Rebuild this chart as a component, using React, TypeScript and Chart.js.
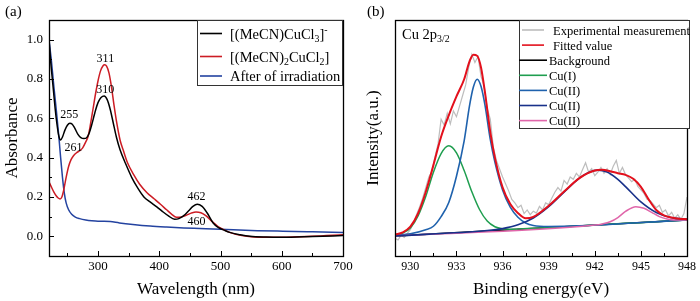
import React, { useEffect, useRef } from "react";
import { Chart, registerables } from "chart.js";

Chart.register(...registerables);

const SERIF = "'Liberation Serif', 'Times New Roman', serif";

// ---------------- Panel (a): UV-vis absorbance ----------------
const wlBlack = [220, 223, 227, 230, 233, 236, 239, 242, 246, 250, 254, 258, 262, 267, 272, 277, 281, 285, 290, 295, 300, 305, 310, 315, 320, 325, 330, 336, 345, 355, 365, 375, 385, 396, 405, 415, 425, 432, 440, 448, 455, 462, 470, 478, 488, 496, 505, 515, 532, 548, 575, 600, 650, 700];
const absBlack = [1.0, 0.88, 0.75, 0.65, 0.57, 0.51, 0.49, 0.505, 0.54, 0.565, 0.575, 0.57, 0.55, 0.52, 0.502, 0.497, 0.5, 0.52, 0.57, 0.63, 0.68, 0.706, 0.714, 0.695, 0.645, 0.575, 0.505, 0.44, 0.37, 0.3, 0.245, 0.2, 0.175, 0.15, 0.127, 0.104, 0.087, 0.09, 0.105, 0.13, 0.152, 0.163, 0.152, 0.12, 0.068, 0.046, 0.033, 0.02, 0.008, 0.0, -0.004, -0.005, -0.001, 0.004];

const wlRed = [220, 224, 228, 232, 235, 238, 241, 244, 248, 252, 256, 260, 265, 270, 275, 280, 284, 288, 292, 296, 300, 304, 308, 311, 314, 318, 322, 326, 331, 336, 341, 348, 358, 368, 380, 392, 402, 412, 420, 428, 436, 444, 452, 460, 468, 476, 486, 496, 505, 515, 525, 535, 550, 575, 600, 650, 700];
const absRed = [0.277, 0.25, 0.225, 0.205, 0.195, 0.19, 0.2, 0.235, 0.3, 0.355, 0.39, 0.41, 0.425, 0.435, 0.45, 0.48, 0.51, 0.575, 0.65, 0.725, 0.79, 0.84, 0.866, 0.872, 0.865, 0.83, 0.76, 0.67, 0.57, 0.49, 0.44, 0.375, 0.315, 0.265, 0.222, 0.19, 0.163, 0.135, 0.113, 0.097, 0.098, 0.107, 0.118, 0.124, 0.12, 0.105, 0.076, 0.05, 0.034, 0.02, 0.01, 0.004, -0.002, -0.005, -0.005, 0.0, 0.008];

const wlBlue = [220, 224, 228, 232, 236, 239, 242, 245, 248, 252, 257, 263, 270, 280, 290, 300, 310, 320, 335, 357, 385, 412, 440, 466, 500, 521, 560, 602, 650, 700];
const absBlue = [1.0, 0.89, 0.76, 0.64, 0.51, 0.4, 0.3, 0.22, 0.17, 0.135, 0.112, 0.098, 0.09, 0.083, 0.079, 0.077, 0.077, 0.075, 0.068, 0.06, 0.052, 0.047, 0.043, 0.04, 0.036, 0.033, 0.029, 0.026, 0.023, 0.02];

const uvLabels = ["[(MeCN)CuCl_{3}]^{-}", "[(MeCN)_{2}CuCl_{2}]", "After of irradiation"];
const uvXTicks = [300, 400, 500, 600, 700];
const uvXMinor = [250, 350, 450, 550, 650];
const uvYTicks = [0, 0.2, 0.4, 0.6, 0.8, 1.0];
const uvYMinor = [0.1, 0.3, 0.5, 0.7, 0.9];
const uvPeakText = ["311", "310", "255", "261", "462", "460"];
const uvPeakWl = [312, 312, 253, 260, 461, 461];
const uvPeakAbs = [0.9, 0.745, 0.617, 0.452, 0.2, 0.073];

// ---------------- Panel (b): XPS Cu 2p3/2 ----------------
const expE = [929.0, 929.2, 929.4, 929.6, 929.8, 930.0, 930.2, 930.4, 930.6, 930.8,
  931.0, 931.2, 931.4, 931.6, 931.8, 932.0, 932.2, 932.4, 932.6, 932.8,
  933.0, 933.2, 933.4, 933.6, 933.8, 934.0, 934.2, 934.4, 934.6, 934.8,
  935.0, 935.2, 935.4, 935.6, 935.8, 936.0, 936.2, 936.4, 936.6, 936.8,
  937.0, 937.2, 937.4, 937.6, 937.8, 938.0, 938.2, 938.4, 938.6, 938.8,
  939.0, 939.2, 939.4, 939.6, 939.8, 940.0, 940.2, 940.4, 940.6, 940.8,
  941.0, 941.2, 941.4, 941.6, 941.8, 942.0, 942.2, 942.4, 942.6, 942.8,
  943.0, 943.2, 943.4, 943.6, 943.8, 944.0, 944.2, 944.4, 944.6, 944.8,
  945.0, 945.2, 945.4, 945.6, 945.8, 946.0, 946.2, 946.4, 946.6, 946.8,
  947.0, 947.2, 947.4, 947.6, 947.8, 948.0];
const expI = [7.5, 6.8, 8.9, 7.9, 9.6, 11.2, 14.0, 17.5, 20.8, 24.5,
  29.0, 33.5, 35.8, 42.0, 47.5, 58.0, 55.5, 60.5, 56.0, 61.5,
  59.0, 63.5, 68.0, 72.5, 80.0, 85.5, 82.0, 84.5, 76.0, 72.0,
  62.5, 58.0, 46.0, 40.5, 37.0, 33.5, 30.5, 27.5, 24.0, 22.5,
  20.5, 21.5, 18.0, 19.5, 17.5, 19.0, 18.2, 21.0, 19.5, 22.5,
  21.8, 24.5, 27.0, 29.0, 27.5, 32.0, 30.5, 33.5, 32.5, 35.0,
  33.5, 36.5, 39.5, 35.5, 37.0, 34.0, 35.5, 37.5, 35.0, 37.0,
  34.5, 38.0, 40.5, 35.0, 37.5, 34.5, 33.0, 31.5, 32.5, 29.5,
  28.0, 26.5, 24.0, 23.5, 22.0, 20.5, 21.5, 18.5, 19.5, 17.0,
  18.5, 16.0, 17.5, 15.5, 18.0, 25.0];

const fitE = [929, 929.5, 930, 930.5, 931, 931.5, 932, 932.5, 933, 933.5, 933.85, 934.1, 934.35, 934.6, 934.85, 935.2, 935.5, 936, 936.5, 937, 937.5, 938, 939, 940, 941, 942, 942.5, 943, 943.5, 944, 944.5, 945, 945.5, 946, 946.5, 947, 947.5, 948];
const fitI = [9.0, 10.0, 12.4, 18.0, 27.1, 38.5, 50.5, 59.6, 67.6, 74.9, 82.5, 85.3, 84.8, 79.8, 69.5, 52.5, 41.7, 29.1, 22.0, 18.2, 16.0, 16.6, 21.3, 27.3, 33.0, 36.2, 36.5, 35.9, 35.1, 34.4, 32.7, 29.3, 24.0, 19.5, 17.2, 16.3, 15.8, 15.6];

const bgE = [929, 948];
const bgI = [8.5, 15.3];

const cu1E = [929, 929.5, 930, 930.5, 931, 931.5, 932, 932.5, 933, 933.5, 934, 934.5, 935, 935.5, 936, 936.5, 937, 948];
const cu1I = [8.8, 9.7, 11.9, 17.0, 25.2, 35.5, 43.4, 46.7, 43.7, 36.2, 27.2, 19.7, 14.8, 12.4, 11.5, 11.3, 11.4, 15.3];

const cu2aE = [929, 930, 931, 931.5, 932, 932.5, 933, 933.5, 933.85, 934.1, 934.35, 934.6, 934.85, 935.2, 935.5, 936, 936.5, 937, 937.5, 938, 939, 940, 948];
const cu2aI = [8.7, 9.4, 11.1, 12.6, 16.7, 22.7, 33.8, 48.8, 63.7, 71.6, 74.9, 71.8, 64.1, 49.4, 39.8, 28.0, 20.7, 16.4, 14.0, 12.9, 12.5, 12.55, 15.3];

const cu2bE = [929, 935, 936, 937, 938, 939, 940, 941, 941.6, 942.2, 942.8, 943.5, 944, 945, 946, 947, 948];
const cu2bI = [8.5, 10.8, 11.6, 13.2, 16.1, 20.9, 27.1, 33.0, 35.4, 36.4, 35.6, 32.5, 29.4, 22.9, 18.4, 16.2, 15.65];

const cu2cE = [929, 942, 942.5, 943, 943.5, 944, 944.67, 945.2, 945.7, 946.2, 946.7, 947.2, 948];
const cu2cI = [8.5, 13.1, 13.6, 14.5, 16.3, 18.9, 20.9, 20.2, 18.5, 16.7, 15.7, 15.3, 15.3];

const xpsLabels = ["Experimental measurement", "Fitted value", "Background", "Cu(I)", "Cu(II)", "Cu(II)", "Cu(II)"];
const xpsXTicks = [930, 933, 936, 939, 942, 945, 948];
const xpsXMinor = [931.5, 934.5, 937.5, 940.5, 943.5, 946.5];

// ---------------- helpers ----------------
const pts = (xs: number[], ys: number[]) => xs.map((x, i) => ({ x, y: ys[i] }));

type Seg = { t: string; m: "n" | "sub" | "sup" };
function parseRich(s: string): Seg[] {
  const out: Seg[] = [];
  let i = 0;
  while (i < s.length) {
    if ((s[i] === "_" || s[i] === "^") && s[i + 1] === "{") {
      const end = s.indexOf("}", i);
      out.push({ t: s.slice(i + 2, end), m: s[i] === "_" ? "sub" : "sup" });
      i = end + 1;
    } else {
      let j = i;
      while (j < s.length && !((s[j] === "_" || s[j] === "^") && s[j + 1] === "{")) j++;
      out.push({ t: s.slice(i, j), m: "n" });
      i = j;
    }
  }
  return out;
}
function drawRich(ctx: CanvasRenderingContext2D, s: string, x: number, yBase: number, size: number) {
  ctx.textAlign = "left";
  ctx.textBaseline = "alphabetic";
  for (const seg of parseRich(s)) {
    const sz = seg.m === "n" ? size : size * 0.68;
    const dy = seg.m === "sub" ? size * 0.25 : seg.m === "sup" ? -size * 0.38 : 0;
    ctx.font = `${sz}px ${SERIF}`;
    ctx.fillText(seg.t, x, yBase + dy);
    x += ctx.measureText(seg.t).width;
  }
}

function drawFrameAndTicks(chart: any, xMaj: number[], xMin: number[], yMaj: number[], yMin: number[]) {
  const { ctx, chartArea: a, scales } = chart;
  const xs = scales.x, ys = scales.y;
  ctx.save();
  ctx.strokeStyle = "#000";
  ctx.lineWidth = 1;
  ctx.beginPath();
  const xt = (vals: number[], len: number) => {
    for (const v of vals) {
      const p = Math.round(xs.getPixelForValue(v)) + 0.5;
      ctx.moveTo(p, a.bottom);
      ctx.lineTo(p, a.bottom - len);
    }
  };
  const yt = (vals: number[], len: number) => {
    for (const v of vals) {
      const p = Math.round(ys.getPixelForValue(v)) + 0.5;
      ctx.moveTo(a.left, p);
      ctx.lineTo(a.left + len, p);
    }
  };
  xt(xMaj, 5); xt(xMin, 3); yt(yMaj, 5); yt(yMin, 3);
  ctx.stroke();
  ctx.lineWidth = 1.3;
  ctx.strokeRect(Math.round(a.left) + 0.5, Math.round(a.top) + 0.5, Math.round(a.right - a.left), Math.round(a.bottom - a.top));
  ctx.restore();
}

const baseLine = { pointRadius: 0, fill: false, cubicInterpolationMode: "monotone" as const };

export default function App() {
  const refA = useRef<HTMLCanvasElement>(null);
  const refB = useRef<HTMLCanvasElement>(null);

  useEffect(() => {
    const uvColors = ["#000000", "#cc1c24", "#2443a0"];
    const chartA = new Chart(refA.current!, {
      type: "line",
      data: {
        datasets: [
          { ...baseLine, label: uvLabels[0], data: pts(wlBlack, absBlack), borderColor: uvColors[0], borderWidth: 1.5 },
          { ...baseLine, label: uvLabels[1], data: pts(wlRed, absRed), borderColor: uvColors[1], borderWidth: 1.5 },
          { ...baseLine, label: uvLabels[2], data: pts(wlBlue, absBlue), borderColor: uvColors[2], borderWidth: 1.5 },
        ],
      },
      options: {
        responsive: false,
        maintainAspectRatio: false,
        devicePixelRatio: 1,
        animation: false,
        events: [],
        layout: { padding: { left: 0, top: 20, right: 22, bottom: 0 } },
        plugins: { legend: { display: false }, tooltip: { enabled: false } },
        scales: {
          x: {
            type: "linear", min: 220, max: 700,
            afterBuildTicks: (s: any) => { s.ticks = uvXTicks.map((v) => ({ value: v })); },
            afterFit: (s: any) => { s.height = 45; },
            grid: { display: false, drawTicks: false },
            border: { display: false },
            ticks: { color: "#000", font: { family: SERIF, size: 13 }, padding: 3, maxRotation: 0, autoSkip: false, callback: (v: any) => String(v) },
            title: { display: true, text: "Wavelength (nm)", color: "#000", font: { family: SERIF, size: 17 }, padding: { top: 0, bottom: 1 } },
          },
          y: {
            type: "linear", min: -0.1, max: 1.1,
            afterBuildTicks: (s: any) => { s.ticks = uvYTicks.map((v) => ({ value: v })); },
            afterFit: (s: any) => { s.width = 49; },
            grid: { display: false, drawTicks: false },
            border: { display: false },
            ticks: { color: "#000", font: { family: SERIF, size: 13 }, padding: 6, callback: (v: any) => Number(v).toFixed(1) },
            title: { display: true, text: "Absorbance", color: "#000", font: { family: SERIF, size: 17 }, padding: { top: 2, bottom: 0 } },
          },
        },
      },
      plugins: [
        {
          id: "decorA",
          afterDraw(chart: any) {
            const { ctx, scales } = chart;
            drawFrameAndTicks(chart, uvXTicks, uvXMinor, uvYTicks, uvYMinor);
            ctx.save();
            // peak labels
            ctx.fillStyle = "#000";
            ctx.font = `12px ${SERIF}`;
            ctx.textAlign = "center";
            ctx.textBaseline = "middle";
            uvPeakText.forEach((t, i) => {
              ctx.fillText(t, scales.x.getPixelForValue(uvPeakWl[i]), scales.y.getPixelForValue(uvPeakAbs[i]));
            });
            // panel label
            ctx.font = `15px ${SERIF}`;
            ctx.textAlign = "left";
            ctx.fillText("(a)", 5, 12);
            // legend
            const bx = 197, by = 20, bw = 145, bh = 65;
            ctx.fillStyle = "#fff";
            ctx.fillRect(bx, by, bw, bh);
            ctx.strokeStyle = "#333";
            ctx.lineWidth = 1;
            ctx.strokeRect(bx + 0.5, by + 0.5, bw, bh);
            const rows = [33.5, 56.5, 76];
            rows.forEach((ry, i) => {
              ctx.strokeStyle = uvColors[i];
              ctx.lineWidth = 1.6;
              ctx.beginPath();
              ctx.moveTo(200, ry);
              ctx.lineTo(222, ry);
              ctx.stroke();
              ctx.fillStyle = "#000";
              drawRich(ctx, uvLabels[i], 230, ry + 5, 14.5);
            });
            ctx.restore();
          },
        },
      ],
    } as any);

    const xpsColors = ["#bdbdbd", "#e3101c", "#000000", "#1f9e4f", "#1f62ad", "#18318a", "#e066aa"];
    const chartB = new Chart(refB.current!, {
      type: "line",
      data: {
        datasets: [
          { ...baseLine, label: xpsLabels[1], data: pts(fitE, fitI), borderColor: xpsColors[1], borderWidth: 2, order: 1 },
          { ...baseLine, label: xpsLabels[5], data: pts(cu2bE, cu2bI), borderColor: xpsColors[5], borderWidth: 1.6, order: 2 },
          { ...baseLine, label: xpsLabels[6], data: pts(cu2cE, cu2cI), borderColor: xpsColors[6], borderWidth: 1.5, order: 3 },
          { ...baseLine, label: xpsLabels[4], data: pts(cu2aE, cu2aI), borderColor: xpsColors[4], borderWidth: 1.6, order: 4 },
          { ...baseLine, label: xpsLabels[3], data: pts(cu1E, cu1I), borderColor: xpsColors[3], borderWidth: 1.5, order: 5 },
          { ...baseLine, label: xpsLabels[2], data: pts(bgE, bgI), borderColor: xpsColors[2], borderWidth: 1.5, order: 6 },
          { pointRadius: 0, fill: false, tension: 0, label: xpsLabels[0], data: pts(expE, expI), borderColor: xpsColors[0], borderWidth: 1.2, order: 7 },
        ],
      },
      options: {
        responsive: false,
        maintainAspectRatio: false,
        devicePixelRatio: 1,
        animation: false,
        events: [],
        layout: { padding: { left: 0, top: 20, right: 10, bottom: 0 } },
        plugins: { legend: { display: false }, tooltip: { enabled: false } },
        scales: {
          x: {
            type: "linear", min: 929, max: 948,
            afterBuildTicks: (s: any) => { s.ticks = xpsXTicks.map((v) => ({ value: v })); },
            afterFit: (s: any) => { s.height = 45; },
            grid: { display: false, drawTicks: false },
            border: { display: false },
            ticks: { color: "#000", font: { family: SERIF, size: 12 }, padding: 4, maxRotation: 0, autoSkip: false, callback: (v: any) => String(v) },
            title: { display: true, text: "Binding energy(eV)", color: "#000", font: { family: SERIF, size: 17 }, padding: { top: 0, bottom: 1 } },
          },
          y: {
            type: "linear", min: 0, max: 100,
            afterFit: (s: any) => { s.width = 45; },
            grid: { display: false, drawTicks: false },
            border: { display: false },
            ticks: { display: false },
            title: { display: true, text: "Intensity(a.u.)", color: "#000", font: { family: SERIF, size: 17 }, padding: { top: 13, bottom: 0 } },
          },
        },
      },
      plugins: [
        {
          id: "decorB",
          afterDraw(chart: any) {
            const { ctx } = chart;
            drawFrameAndTicks(chart, xpsXTicks, xpsXMinor, [], []);
            ctx.save();
            ctx.fillStyle = "#000";
            ctx.font = `15px ${SERIF}`;
            ctx.textAlign = "left";
            ctx.textBaseline = "middle";
            ctx.fillText("(b)", 17, 12);
            drawRich(ctx, "Cu 2p_{3/2}", 52, 38.5, 14.5);
            // legend
            const bx = 169, by = 20, bw = 170, bh = 108;
            ctx.fillStyle = "#fff";
            ctx.fillRect(bx, by, bw, bh);
            ctx.strokeStyle = "#333";
            ctx.lineWidth = 1;
            ctx.strokeRect(bx + 0.5, by + 0.5, bw, bh);
            xpsLabels.forEach((lab, i) => {
              const ry = 30 + i * 15.1;
              const x0 = i < 2 ? 172 : 169;
              const x1 = i < 2 ? 194 : 197;
              const tx = i < 2 ? 203 : 199;
              ctx.strokeStyle = xpsColors[i];
              ctx.lineWidth = 1.6;
              ctx.beginPath();
              ctx.moveTo(x0, ry);
              ctx.lineTo(x1, ry);
              ctx.stroke();
              ctx.fillStyle = "#000";
              drawRich(ctx, lab, tx, ry + 4.5, 12.5);
            });
            ctx.restore();
          },
        },
      ],
    } as any);

    return () => {
      chartA.destroy();
      chartB.destroy();
    };
  }, []);

  return (
    <div style={{ position: "fixed", left: 0, top: 0, width: 700, height: 301, background: "#fff", overflow: "hidden" }}>
      <canvas ref={refA} width={365} height={301} style={{ position: "absolute", left: 0, top: 0 }} />
      <canvas ref={refB} width={350} height={301} style={{ position: "absolute", left: 350, top: 0 }} />
    </div>
  );
}
